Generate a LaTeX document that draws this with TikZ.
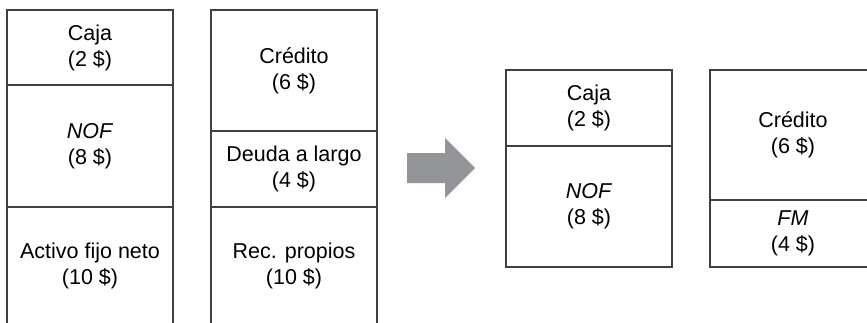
\documentclass[tikz,border=0pt]{standalone}
\usepackage{fontspec}
\setmainfont{Liberation Sans}
\usetikzlibrary{positioning}
\definecolor{arrowgray}{RGB}{148,149,153}
\definecolor{linegray}{RGB}{64,64,66}

\tikzset{cell/.style={draw=linegray, line width=1.1pt, minimum width=166pt, outer sep=0pt,
  inner sep=0pt, align=center, font=\fontsize{21.5}{26}\selectfont}}

\begin{document}
\begin{tikzpicture}[x=1pt,y=-1pt]
\useasboundingbox (0,0) rectangle (867,322);
% before
\node[cell, minimum height=75pt, anchor=north west] (caja) at (7,10) {Caja\\(2 \$)};
\node[cell, minimum height=122pt, below=0pt of caja] (nof) {\textit{NOF}\\(8 \$)};
\node[cell, minimum height=118pt, below=0pt of nof] (activo) {Activo fijo neto\\(10 \$)};
\node[cell, minimum height=121pt, anchor=north west] (credito) at (211,10) {Crédito\\(6 \$)};
\node[cell, minimum height=76pt, below=0pt of credito] (deuda) {Deuda a largo\\(4 \$)};
\node[cell, minimum height=118pt, below=0pt of deuda] (recursos) {Rec. propios\\(10 \$)};
% arrow
\fill[arrowgray] (407,153) -- (445,153) -- (445,138) -- (475,168) -- (445,198) -- (445,183) -- (407,183) -- cycle;
% after
\node[cell, minimum height=76pt, anchor=north west] (caja2) at (506,70) {Caja\\(2 \$)};
\node[cell, minimum height=121pt, below=0pt of caja2] (nof2) {\textit{NOF}\\(8 \$)};
\node[cell, minimum height=130pt, anchor=north west] (credito2) at (710,70) {Crédito\\(6 \$)};
\node[cell, minimum height=67pt, below=0pt of credito2] (fm) {\textit{FM}\\(4 \$)};
\end{tikzpicture}
\end{document}
